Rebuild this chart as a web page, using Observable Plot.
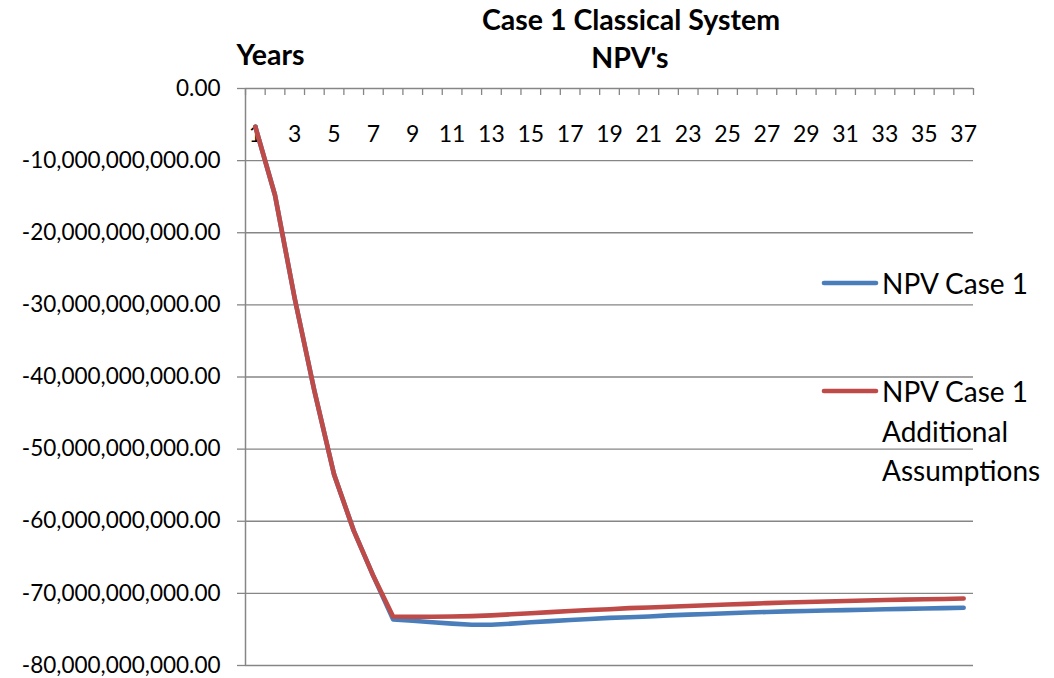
<!DOCTYPE html>
<html>
<head>
<meta charset="utf-8">
<script src="https://cdn.jsdelivr.net/npm/d3@7"></script>
<script src="https://cdn.jsdelivr.net/npm/@observablehq/plot@0.6"></script>
<style>
  html, body { margin: 0; padding: 0; background: #fff; }
  #chart { width: 1054px; height: 678px; }
</style>
</head>
<body>
<div id="chart"></div>
<script>
// Project years (category axis)
const years = [1, 2, 3, 4, 5, 6, 7, 8, 9, 10, 11, 12, 13, 14, 15, 16, 17, 18, 19,
  20, 21, 22, 23, 24, 25, 26, 27, 28, 29, 30, 31, 32, 33, 34, 35, 36, 37];

// Cumulative NPV, base case
const npvCase1 = [
  -5.3e9, -14.8e9, -29.1e9, -41.9e9, -53.5e9, -61.3e9, -67.6e9, -73.6e9,
  -73.8e9, -74.0e9, -74.2e9, -74.35e9, -74.35e9, -74.2e9, -74.0e9, -73.85e9,
  -73.7e9, -73.55e9, -73.4e9, -73.3e9, -73.2e9, -73.05e9, -72.95e9, -72.85e9,
  -72.75e9, -72.65e9, -72.58e9, -72.5e9, -72.45e9, -72.38e9, -72.32e9, -72.27e9,
  -72.2e9, -72.15e9, -72.1e9, -72.05e9, -72.0e9
];

// Cumulative NPV with additional assumptions
const npvCase1Additional = [
  -5.3e9, -14.8e9, -29.1e9, -41.9e9, -53.5e9, -61.3e9, -67.6e9, -73.2e9,
  -73.25e9, -73.25e9, -73.2e9, -73.15e9, -73.05e9, -72.9e9, -72.75e9, -72.6e9,
  -72.45e9, -72.3e9, -72.2e9, -72.05e9, -71.95e9, -71.85e9, -71.75e9, -71.65e9,
  -71.55e9, -71.45e9, -71.35e9, -71.27e9, -71.2e9, -71.12e9, -71.05e9, -70.98e9,
  -70.92e9, -70.87e9, -70.82e9, -70.77e9, -70.72e9
];

// Value axis ticks
const yTicks = [0, -10e9, -20e9, -30e9, -40e9, -50e9, -60e9, -70e9, -80e9];
// Year labels shown on the category axis
const yearLabels = years.filter(y => y % 2 === 1);

const seriesNames = ["NPV Case 1", "NPV Case 1 Additional Assumptions"];
const seriesColors = ["#4A7EBB", "#BE4B48"];

const rows = [
  ...years.map((year, i) => ({year, value: npvCase1[i], series: seriesNames[0]})),
  ...years.map((year, i) => ({year, value: npvCase1Additional[i], series: seriesNames[1]}))
];

const W = 1054, H = 678;
const margin = {top: 88, right: 81, bottom: 13, left: 245};
const plotH = H - margin.top - margin.bottom;
const gridColor = "#868686";
const font = "Lato, 'Open Sans', sans-serif";
const fmt = d3.formatLocale({decimal: ".", thousands: ",", grouping: [3], currency: ["", ""], minus: "-"}).format(",.2f");

// Category boundaries for the tick marks
const boundaries = [...years.map(y => y - 0.5), years[years.length - 1] + 0.5];

const chart = Plot.plot({
  width: W,
  height: H,
  marginTop: margin.top,
  marginRight: margin.right,
  marginBottom: margin.bottom,
  marginLeft: margin.left,
  style: {fontFamily: font, fontSize: "22.5px", color: "#000", background: "#fff", overflow: "visible"},
  x: {domain: [0.5, 37.5], axis: null},
  y: {domain: [-80e9, 0], axis: null},
  color: {domain: seriesNames, range: seriesColors},
  marks: [
    Plot.gridY(yTicks, {stroke: gridColor, strokeOpacity: 1, strokeWidth: 1.3}),
    Plot.axisY(yTicks, {
      label: null, tickSize: 8, tickPadding: 17, tickFormat: fmt,
      stroke: gridColor, strokeWidth: 1.3, fill: "#000", fontSize: 22.5
    }),
    Plot.ruleX([boundaries[0]], {stroke: gridColor, strokeWidth: 1.5}),
    Plot.ruleX(boundaries, {x: d => d, insetBottom: plotH - 7, stroke: gridColor, strokeWidth: 1.3}),
    Plot.text(yearLabels, {x: d => d, text: d => String(d), frameAnchor: "top", dy: 37, fontSize: 23, fill: "#000"}),
    Plot.line(rows, {
      x: "year", y: "value", z: "series", stroke: "series",
      strokeWidth: 4.6, strokeLinecap: "round", strokeLinejoin: "round"
    })
  ]
});

document.getElementById("chart").appendChild(chart);

// Title, axis title and legend drawn into the same SVG
const svg = d3.select(chart);
const title = svg.append("g").attr("font-family", font).attr("font-weight", "bold")
  .attr("font-size", 28.5).attr("fill", "#000").attr("text-anchor", "middle")
  .attr("dominant-baseline", "central");
title.append("text").attr("x", 631).attr("y", 19).text("Case 1 Classical System");
title.append("text").attr("x", 630).attr("y", 57).text("NPV's");
title.append("text").attr("x", 270.5).attr("y", 54).text("Years");

const legend = svg.append("g").attr("font-family", font).attr("font-size", 28)
  .attr("fill", "#000").attr("text-anchor", "start");
const legendItems = [
  {color: seriesColors[0], y: 283, lines: ["NPV Case 1"]},
  {color: seriesColors[1], y: 391, lines: ["NPV Case 1", "Additional", "Assumptions"]}
];
legendItems.forEach(item => {
  legend.append("line")
    .attr("x1", 824).attr("x2", 876).attr("y1", item.y).attr("y2", item.y)
    .attr("stroke", item.color).attr("stroke-width", 4.6).attr("stroke-linecap", "round");
  item.lines.forEach((t, i) => {
    legend.append("text").attr("x", 882).attr("y", item.y + i * 39.5)
      .attr("dominant-baseline", "central").text(t);
  });
});
</script>
</body>
</html>
